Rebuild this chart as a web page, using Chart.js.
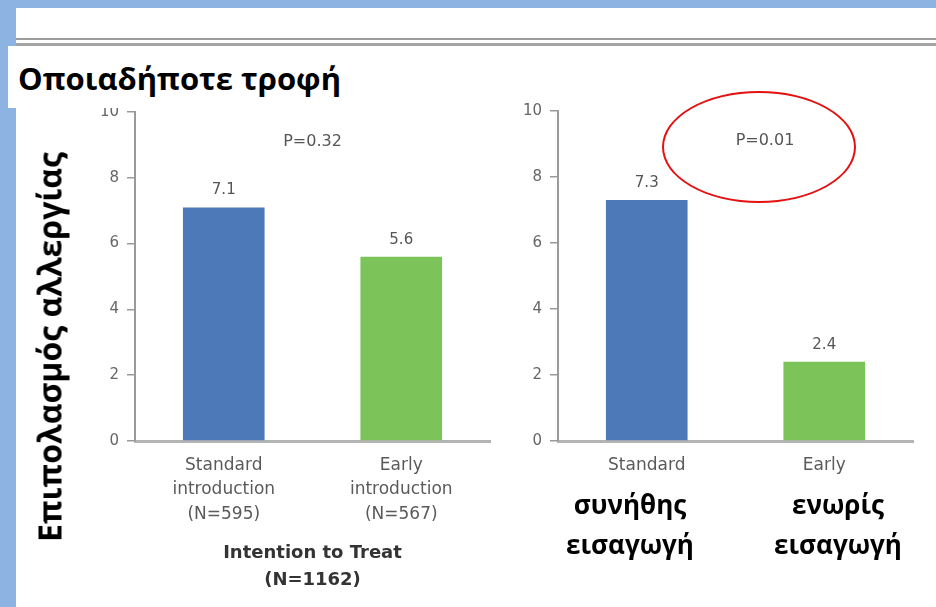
<!DOCTYPE html>
<html>
<head>
    <title>Επιπολασμός αλλεργίας</title>
    <script src="https://cdn.jsdelivr.net/npm/chart.js"></script>
    <style>
        body { margin: 0; width: 936px; height: 607px; overflow: hidden; background: #fff; position: relative; font-family: 'Open Sans', sans-serif; }
        .abs { position: absolute; }
        #topBand { left: 0; top: 0; width: 936px; height: 8px; background: #8DB3E2; }
        #leftBand { left: 0; top: 0; width: 16px; height: 607px; background: #8DB3E2; }
        #rule1 { left: 16px; top: 38px; width: 920px; height: 2px; background: #9c9c9c; }
        #rule2 { left: 16px; top: 43px; width: 920px; height: 3px; background: #a4a4a4; }
        #titleBox { left: 8px; top: 46px; width: 372px; height: 62px; background: #fff; z-index: 5; }
        #titleBox span { position: absolute; left: 10px; top: 11px; font-size: 31px; font-weight: bold; color: #000; white-space: nowrap; }
        #yTitle { left: 49px; top: 347px; transform: translate(-50%, -50%) rotate(-90deg); font-size: 32px; font-weight: bold; white-space: nowrap; color: #000; }
        .gr { font-size: 26px; font-weight: bold; color: #000; text-align: center; line-height: 40px; white-space: nowrap; z-index: 3; }
        #ellipse { left: 662px; top: 91px; width: 194px; height: 112px; box-sizing: border-box; border: 2.5px solid #E51010; border-radius: 50%; z-index: 4; }
    </style>
</head>
<body>
    <div class="abs" id="topBand"></div>
    <div class="abs" id="leftBand"></div>
    <div class="abs" id="rule1"></div>
    <div class="abs" id="rule2"></div>

    <canvas class="abs" id="chartLeft" width="440" height="505" style="left:60px; top:95px;"></canvas>
    <canvas class="abs" id="chartRight" width="425" height="400" style="left:500px; top:94px;"></canvas>

    <div class="abs" id="titleBox"><span>Οποιαδήποτε τροφή</span></div>
    <div class="abs" id="yTitle">Επιπολασμός αλλεργίας</div>
    <div class="abs" id="ellipse"></div>
    <div class="abs gr" style="left:560px; top:484px; width:140px;">συνήθης<br>εισαγωγή</div>
    <div class="abs gr" style="left:768px; top:484px; width:140px;">ενωρίς<br>εισαγωγή</div>

    <script>
        // data
        const leftLabels = [['Standard', 'introduction', '(N=595)'], ['Early', 'introduction', '(N=567)']];
        const leftValues = [7.1, 5.6];
        const rightLabels = ['Standard', 'Early'];
        const rightValues = [7.3, 2.4];
        const leftPValue = 'P=0.32';
        const rightPValue = 'P=0.01';
        const groupTitle = ['Intention to Treat', '(N=1162)'];
        const yMin = 0, yMax = 10, yStep = 2;

        const barColors = ['#4E79B8', '#7CC45A'];
        const chartFont = "'DejaVu Sans', sans-serif";

        // writes the value above each bar and the P value
        const barTextPlugin = {
            id: 'barText',
            afterDatasetsDraw(chart, args, opts) {
                const ctx = chart.ctx;
                const meta = chart.getDatasetMeta(0);
                ctx.save();
                ctx.fillStyle = '#555';
                ctx.font = '15px ' + chartFont;
                ctx.textAlign = 'center';
                ctx.textBaseline = 'middle';
                meta.data.forEach((bar, i) => {
                    ctx.fillText(chart.data.datasets[0].data[i].toFixed(1), bar.x, bar.y - 17);
                });
                const area = chart.chartArea;
                ctx.font = '16px ' + chartFont;
                ctx.fillText(opts.text, area.left + area.width * opts.xFrac, chart.scales.y.getPixelForValue(opts.yValue));
                ctx.restore();
            }
        };

        function makeChart(id, labels, values, opts) {
            const ctx = document.getElementById(id).getContext('2d');
            return new Chart(ctx, {
                type: 'bar',
                data: {
                    labels: labels,
                    datasets: [{
                        data: values,
                        backgroundColor: barColors,
                        borderWidth: 0,
                        barPercentage: 0.46,
                        categoryPercentage: 1
                    }]
                },
                options: {
                    responsive: false,
                    animation: false,
                    layout: { padding: { top: 12, right: opts.padRight, left: 0, bottom: 0 } },
                    plugins: {
                        legend: { display: false },
                        tooltip: { enabled: false },
                        barText: { text: opts.pText, xFrac: opts.pX, yValue: 9.1 }
                    },
                    scales: {
                        x: {
                            grid: { display: false },
                            border: { display: true, color: '#b4b4b4', width: 3 },
                            ticks: { color: '#5a5a5a', padding: 4, maxRotation: 0, font: { family: chartFont, size: 17, lineHeight: 1.45 } },
                            title: {
                                display: !!opts.xTitle,
                                text: opts.xTitle || '',
                                color: '#333',
                                font: { family: chartFont, size: 18, weight: 'bold', lineHeight: 1.5 },
                                padding: { top: 0, bottom: 6 }
                            },
                            afterFit: (s) => { s.height = opts.xHeight; }
                        },
                        y: {
                            min: yMin,
                            max: yMax,
                            ticks: { stepSize: yStep, color: '#666', padding: 8, font: { family: chartFont, size: 15 } },
                            grid: { drawOnChartArea: false, drawTicks: true, tickLength: 8, color: '#9a9a9a', lineWidth: 1.5 },
                            border: { display: true, color: '#9a9a9a', width: 2 },
                            afterFit: (s) => { s.width = opts.yWidth; }
                        }
                    }
                },
                plugins: [barTextPlugin]
            });
        }

        makeChart('chartLeft', leftLabels, leftValues, {
            padRight: 10, yWidth: 75, xHeight: 159, pText: leftPValue, pX: 0.5, xTitle: groupTitle
        });
        makeChart('chartRight', rightLabels, rightValues, {
            padRight: 12, yWidth: 58, xHeight: 53, pText: rightPValue, pX: 0.583
        });
    </script>
</body>
</html>
